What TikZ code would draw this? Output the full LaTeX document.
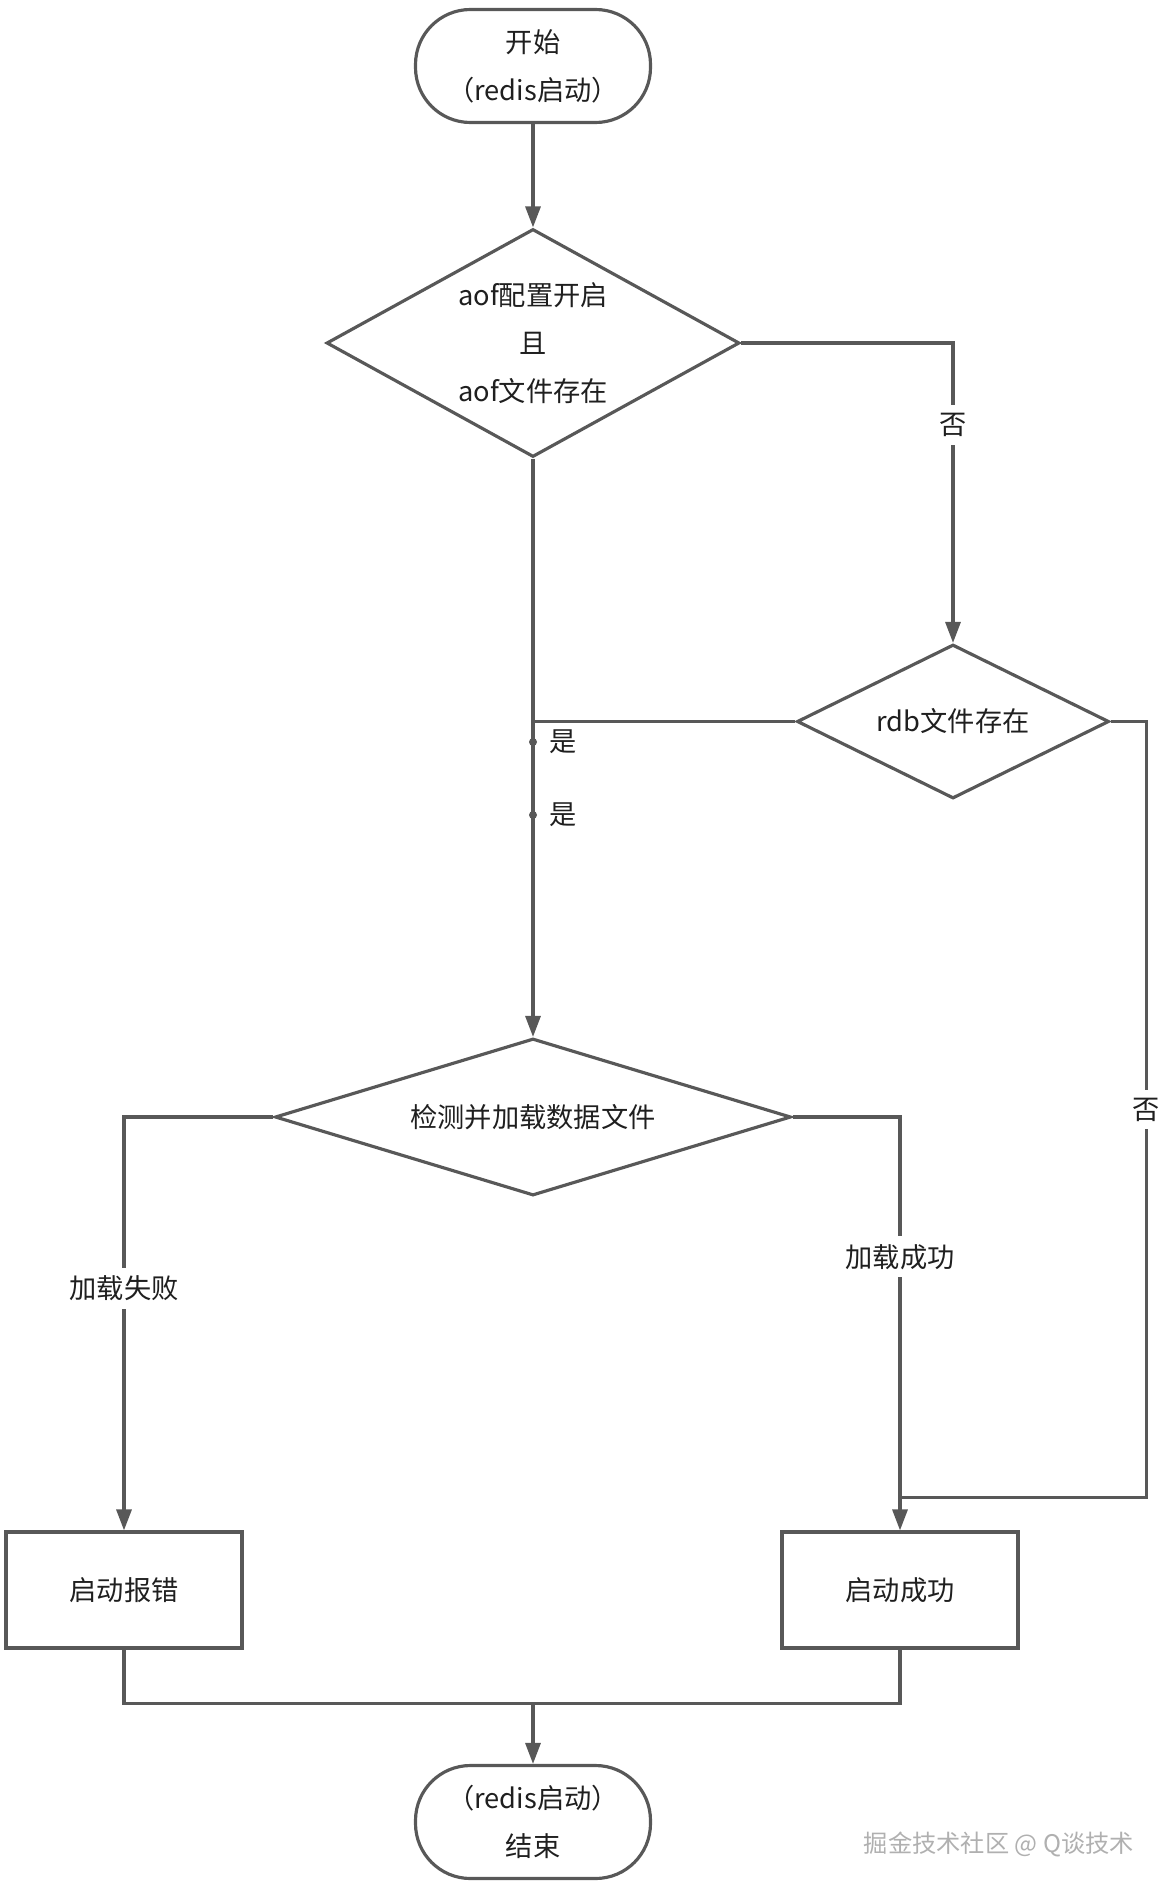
\documentclass[tikz,border=0pt]{standalone}
\usepackage{fontspec}
\setmainfont{Noto Sans CJK SC}
\usetikzlibrary{shapes.geometric, arrows.meta, positioning}
\definecolor{linegray}{HTML}{585858}
\definecolor{textblack}{HTML}{1F1F1F}

\begin{document}
\begin{tikzpicture}

  % Definitions
  \tikzstyle{Terminal} = [rectangle, rounded corners=1.1cm, minimum width=4.7cm, minimum height=2.26cm, text centered, align=center, draw=linegray, line width=1.8pt, text=textblack, font=\fontsize{15.5}{27.3}\selectfont]
  \tikzstyle{Decision} = [diamond, inner sep=0pt, text centered, align=center, draw=linegray, line width=1.8pt, text=textblack, font=\fontsize{15.5}{27.3}\selectfont]
  \tikzstyle{Process} = [rectangle, minimum width=4.72cm, minimum height=2.32cm, text centered, draw=linegray, line width=1.8pt, text=textblack, font=\fontsize{15.5}{27.3}\selectfont]
  \tikzstyle{Dot} = [circle, fill=linegray, inner sep=0pt, minimum size=0.16cm]
  \tikzstyle{Label} = [fill=white, inner xsep=1pt, inner ysep=0.16cm, text=textblack, font=\fontsize{15.5}{18}\selectfont]
  \tikzstyle{Watermark} = [text=gray!62, font=\fontsize{13.8}{16}\selectfont]
  \tikzstyle{line} = [draw=linegray, line width=1.8pt]
  \tikzstyle{arrow} = [draw=linegray, line width=1.8pt, ->, >={Triangle[width=0.3cm, length=0.42cm]}]

  \useasboundingbox (0,0) rectangle (23.44,-37.76);

  \node (start) [Terminal] at (10.66,-1.32) {开始\\（redis启动）};
  \node (d1) [Decision, aspect=1.81, minimum width=8.26cm, minimum height=4.56cm, below of=start, yshift=-4.54cm] {aof配置开启\\且\\aof文件存在};
  \node (rdb) [Decision, aspect=2.03, minimum width=6.24cm, minimum height=3.08cm, right of=d1, xshift=7.4cm, yshift=-7.57cm] {rdb文件存在};
  \node (d3) [Decision, aspect=3.29, minimum width=10.32cm, minimum height=3.14cm, below of=d1, yshift=-14.48cm] {检测并加载数据文件};
  \node (fail) [Process, below of=d3, xshift=-8.18cm, yshift=-8.46cm] {启动报错};
  \node (ok) [Process, right of=fail, xshift=14.52cm] {启动成功};
  \node (end) [Terminal, below of=d3, yshift=-13.1cm] {（redis启动）\\结束};

  \node (yesRdb) [Dot, below of=d1, yshift=-6.98cm] {};
  \node (yesAof) [Dot, below of=d1, yshift=-8.44cm] {};
  \node (yesRdbText) [Label, fill=none, right of=yesRdb, xshift=-0.4cm] {是};
  \node (yesAofText) [Label, fill=none, right of=yesAof, xshift=-0.4cm] {是};

  \coordinate (noJoin) at ([yshift=0.66cm]ok.north);
  \coordinate (merge) at ([yshift=1.21cm]end.north);

  \draw [arrow] (start) -- (d1);
  \draw [arrow] (d1.east) -| node[Label, pos=0.637] {否} (rdb.north);
  \draw [arrow] (d1) -- (d3);
  \draw [line] (rdb.west) -- (rdb.west -| d1.south);
  \draw [line] (rdb.east) -- ++(0.72,0) |- node[Label, pos=0.25] {否} (noJoin);

  \draw [arrow] (d3.west) -| node[Label, pos=0.707] {加载失败} (fail.north);
  \draw [arrow] (d3.east) -| node[Label, pos=0.669] {加载成功} (ok.north);

  \draw [line] (fail.south) |- (merge) -| (ok.south);
  \draw [arrow] (merge) -- (end);

  \node (mark) [Watermark] at (19.98,-36.88) {掘金技术社区 @ Q谈技术};

\end{tikzpicture}
\end{document}
